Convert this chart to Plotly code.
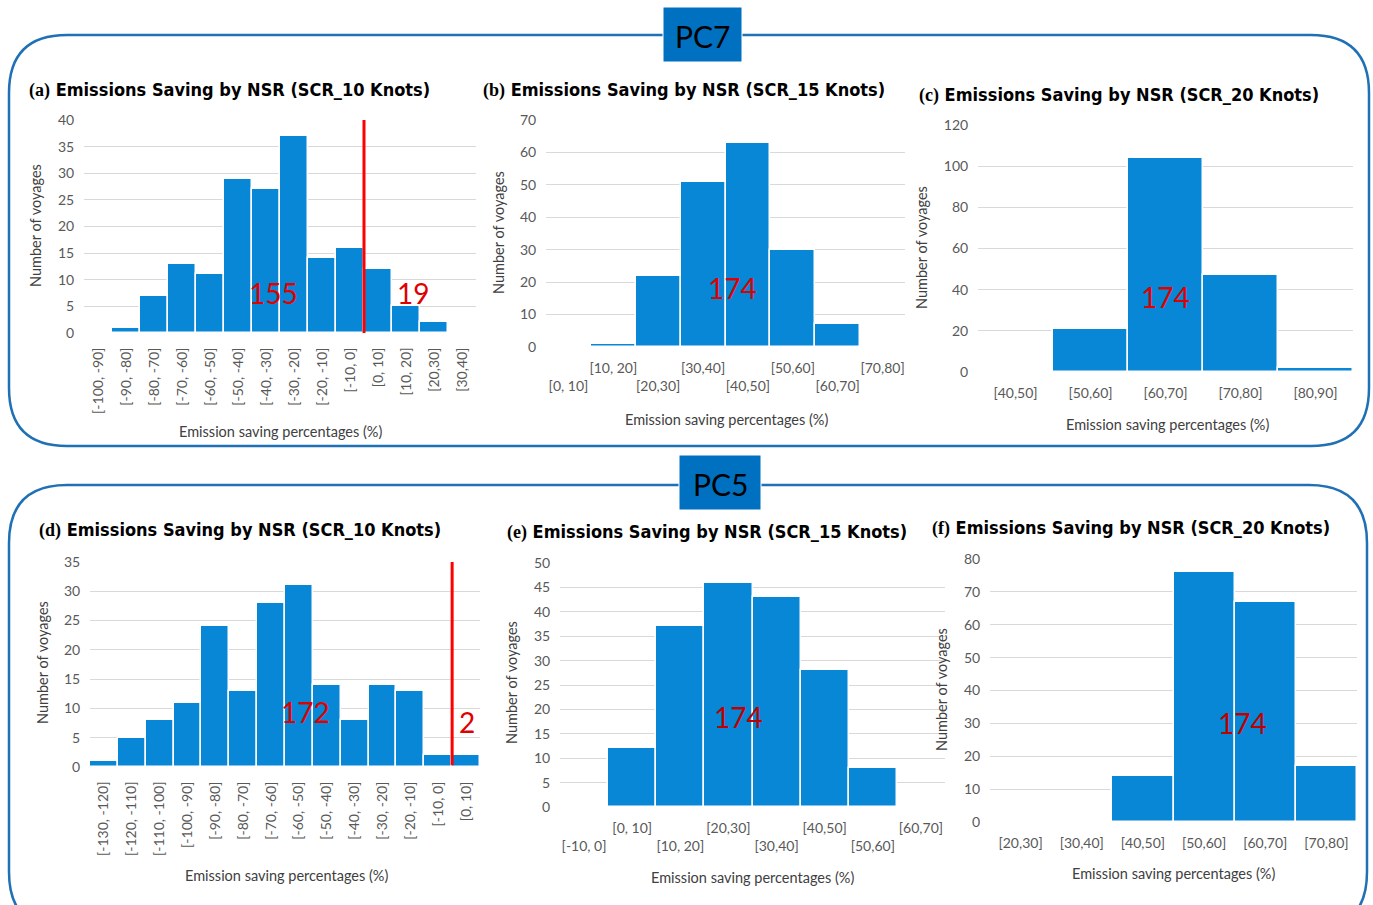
import plotly.graph_objects as go

# ---- data -------------------------------------------------------------
cats_a = ["[-100, -90]", "[-90, -80]", "[-80, -70]", "[-70, -60]", "[-60, -50]",
          "[-50, -40]", "[-40, -30]", "[-30, -20]", "[-20, -10]", "[-10, 0]",
          "[0, 10]", "[10, 20]", "[20,30]", "[30,40]"]
vals_a = [0, 1, 7, 13, 11, 29, 27, 37, 14, 16, 12, 5, 2, 0]
split_a = 10  # first category with positive saving

cats_b = ["[0, 10]", "[10, 20]", "[20,30]", "[30,40]", "[40,50]", "[50,60]", "[60,70]", "[70,80]"]
vals_b = [0, 1, 22, 51, 63, 30, 7, 0]

cats_c = ["[40,50]", "[50,60]", "[60,70]", "[70,80]", "[80,90]"]
vals_c = [0, 21, 104, 47, 2]

cats_d = ["[-130, -120]", "[-120, -110]", "[-110, -100]", "[-100, -90]", "[-90, -80]",
          "[-80, -70]", "[-70, -60]", "[-60, -50]", "[-50, -40]", "[-40, -30]",
          "[-30, -20]", "[-20, -10]", "[-10, 0]", "[0, 10]"]
vals_d = [1, 5, 8, 11, 24, 13, 28, 31, 14, 8, 14, 13, 2, 2]
split_d = 13

cats_e = ["[-10, 0]", "[0, 10]", "[10, 20]", "[20,30]", "[30,40]", "[40,50]", "[50,60]", "[60,70]"]
vals_e = [0, 12, 37, 46, 43, 28, 8, 0]

cats_f = ["[20,30]", "[30,40]", "[40,50]", "[50,60]", "[60,70]", "[70,80]"]
vals_f = [0, 0, 14, 76, 67, 17]

titles = ["(a)", "(b)", "(c)", "(d)", "(e)", "(f)"]
speeds = ["SCR_10 Knots", "SCR_15 Knots", "SCR_20 Knots",
          "SCR_10 Knots", "SCR_15 Knots", "SCR_20 Knots"]
groups = ["PC7", "PC5"]

# ---- page geometry (pixels) --------------------------------------------
W, H = 1373, 905
BAR = "#0787d6"
FRAME = "#1f70b4"
GRID = "#d9d9d9"
TICK = "#595959"
TICKFONT = "Lato, Carlito, Calibri, sans-serif"
TITLEFONT = "Liberation Sans Narrow, Arial Narrow, DejaVu Sans Condensed, sans-serif"


def fx(x):
    return x / W


def fy(y):
    return 1 - y / H


panels = [
    # plot box (l, t, r, b), y max, dtick, tick-label style, title / axis-title anchors
    dict(c=cats_a, v=vals_a, box=(84, 120, 476, 333), ymax=40, dt=5, mode="rot",
         t=(27, 90), yt=(36, 226), xt=(280, 432)),
    dict(c=cats_b, v=vals_b, box=(546, 120, 905, 347), ymax=70, dt=10, mode="stag",
         t=(481, 90), yt=(498, 232), xt=(726, 419)),
    dict(c=cats_c, v=vals_c, box=(978, 125, 1353, 372), ymax=120, dt=20, mode="flat",
         t=(917, 95), yt=(922, 248), xt=(1167, 424)),
    dict(c=cats_d, v=vals_d, box=(90, 562, 480, 767), ymax=35, dt=5, mode="rot",
         t=(37, 530), yt=(42, 663), xt=(286, 875)),
    dict(c=cats_e, v=vals_e, box=(560, 563, 945, 807), ymax=50, dt=5, mode="stag",
         t=(505, 532), yt=(511, 683), xt=(752, 877)),
    dict(c=cats_f, v=vals_f, box=(990, 559, 1357, 822), ymax=80, dt=10, mode="flat",
         t=(930, 528), yt=(941, 690), xt=(1173, 873)),
]

fig = go.Figure()
annotations = []
shapes = []
layout_axes = {}

# ---- outer frames and group boxes --------------------------------------


def rounded(l, t, r, b, rad):
    rx, ry = rad / W, rad / H
    L, T, R, B = fx(l), fy(t), fx(r), fy(b)
    return (f"M {L},{B + ry} L {L},{T - ry} Q {L},{T} {L + rx},{T} "
            f"L {R - rx},{T} Q {R},{T} {R},{T - ry} L {R},{B + ry} "
            f"Q {R},{B} {R - rx},{B} L {L + rx},{B} Q {L},{B} {L},{B + ry} Z")


shapes.append(dict(type="path", xref="paper", yref="paper", path=rounded(9, 35, 1369, 446, 58),
                   line=dict(color=FRAME, width=2.5), layer="below"))
shapes.append(dict(type="path", xref="paper", yref="paper", path=rounded(9, 485, 1367, 930, 58),
                   line=dict(color=FRAME, width=2.5), layer="below"))

for name, (l, t, r, b) in zip(groups, [(663, 7, 742, 62), (679, 455, 761, 510)]):
    shapes.append(dict(type="rect", xref="paper", yref="paper",
                       x0=fx(l), x1=fx(r), y0=fy(b), y1=fy(t),
                       fillcolor="#0070c0", line=dict(color="white", width=1), layer="above"))
    annotations.append(dict(text=name, x=fx((l + r) / 2), y=fy((t + b) / 2 + 1), xref="paper", yref="paper",
                            showarrow=False, xanchor="center", yanchor="middle",
                            font=dict(family=TICKFONT, size=30, color="black")))

# ---- panels ------------------------------------------------------------
for i, p in enumerate(panels):
    n = len(p["c"])
    k = "" if i == 0 else str(i + 1)
    xa, ya = "x" + k, "y" + k
    l, t, r, b = p["box"]
    xs = list(range(n))

    fig.add_trace(go.Bar(x=xs, y=p["v"], xaxis=xa, yaxis=ya, width=1.0,
                         marker=dict(color=BAR, line=dict(color="white", width=1.5)),
                         showlegend=False, hoverinfo="y"))

    if p["mode"] == "stag":
        ticktext = [("<br>" + c) if j % 2 == 0 else c for j, c in enumerate(p["c"])]
        tickangle = 0
    elif p["mode"] == "rot":
        ticktext = p["c"]
        tickangle = -90
    else:
        ticktext = p["c"]
        tickangle = 0

    layout_axes["xaxis" + k] = dict(
        domain=[fx(l), fx(r)], anchor=ya, range=[-0.5, n - 0.5],
        tickmode="array", tickvals=xs, ticktext=ticktext, tickangle=tickangle,
        showgrid=False, zeroline=False, showline=False, automargin=False,
        ticks="outside", ticklen=8, tickcolor="rgba(0,0,0,0)",
        tickfont=dict(family=TICKFONT, size=14, color=TICK), fixedrange=True)
    layout_axes["yaxis" + k] = dict(
        domain=[fy(b), fy(t)], anchor=xa, range=[0, p["ymax"]], dtick=p["dt"],
        showgrid=True, gridcolor=GRID, gridwidth=1.3, zeroline=False, showline=False,
        automargin=False,
        ticks="outside", ticklen=6, tickcolor="rgba(0,0,0,0)",
        tickfont=dict(family=TICKFONT, size=14, color=TICK), fixedrange=True)

    # panel title
    annotations.append(dict(
        text=(f"<span style='font-family:Liberation Serif, Times New Roman, serif'>{titles[i]}</span>"
              f" Emissions Saving by NSR ({speeds[i]})"),
        x=fx(p["t"][0]), y=fy(p["t"][1]), xref="paper", yref="paper", showarrow=False,
        xanchor="left", yanchor="middle",
        font=dict(family=TITLEFONT, size=18, color="black", weight="bold")))
    # axis titles
    annotations.append(dict(text="Number of voyages", x=fx(p["yt"][0]), y=fy(p["yt"][1]),
                            xref="paper", yref="paper", showarrow=False, textangle=-90,
                            xanchor="center", yanchor="middle",
                            font=dict(family=TICKFONT, size=14.5, color="#404040")))
    annotations.append(dict(text="Emission saving percentages (%)", x=fx(p["xt"][0]), y=fy(p["xt"][1]),
                            xref="paper", yref="paper", showarrow=False,
                            xanchor="center", yanchor="middle",
                            font=dict(family=TICKFONT, size=14.5, color="#404040")))

# ---- voyage counts and zero-saving threshold --------------------------
count_font = dict(family=TICKFONT, size=28, color="#e00000")
count_font_dark = dict(family=TICKFONT, size=28, color="#c00000")


def count_label(text, axis_k, x, y, font):
    annotations.append(dict(text=text, x=x, y=y, xref="x" + axis_k, yref="y" + axis_k,
                            showarrow=False, xanchor="center", yanchor="middle", font=font))


# (a)
count_label(str(sum(vals_a[:split_a])), "", 6.25, 7.5, count_font)
count_label(str(sum(vals_a[split_a:])), "", 11.25, 7.5, count_font)
shapes.append(dict(type="line", xref="x", yref="y", x0=split_a - 0.5, x1=split_a - 0.5,
                   y0=0, y1=41, line=dict(color="red", width=3)))
# (b), (c)
count_label(str(sum(vals_b)), "2", 3.66, 18.3, count_font)
count_label(str(sum(vals_c)), "3", 2.0, 36.4, count_font)
# (d)
count_label(str(sum(vals_d[:split_d])), "4", 7.22, 9.4, count_font)
count_label(str(sum(vals_d[split_d:])), "4", 13.03, 7.7, count_font)
shapes.append(dict(type="line", xref="x4", yref="y4", x0=split_d - 0.5, x1=split_d - 0.5,
                   y0=0.3, y1=35, line=dict(color="red", width=3)))
# (e), (f)
count_label(str(sum(vals_e)), "5", 3.2, 18.4, count_font_dark)
count_label(str(sum(vals_f)), "6", 3.63, 30.1, count_font_dark)

fig.update_layout(
    width=W, height=H, margin=dict(l=0, r=0, t=0, b=0, autoexpand=False),
    paper_bgcolor="white", plot_bgcolor="white",
    bargap=0, showlegend=False,
    shapes=shapes, annotations=annotations,
    **layout_axes)

fig.write_html("out.html", config={"displayModeBar": False},
               post_script="document.body.style.margin='0';")
